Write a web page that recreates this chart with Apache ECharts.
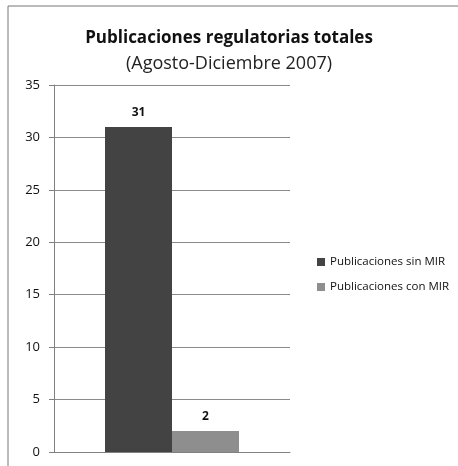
<!DOCTYPE html>
<html lang="es">
	<head>
		<meta charset="utf-8" />
		<title>Publicaciones regulatorias totales</title>
		<script src="https://cdn.jsdelivr.net/npm/echarts@6/dist/echarts.min.js"></script>
		<style>
			html, body { margin: 0; padding: 0; background: #fff; }
			#chart { width: 458px; height: 466px; }
		</style>
	</head>
	<body>
		<div id="chart"></div>
		<script type="text/javascript">
			// datos
			const categories = [''];
			const seriesNames = ['Publicaciones sin MIR', 'Publicaciones con MIR'];
			const sinMir = [31];
			const conMir = [2];
			const yTicks = { min: 0, max: 35, interval: 5 };

			const chart = echarts.init(document.getElementById('chart'));
			const font = '"Open Sans", sans-serif';

			const option = {
				animation: false,
				backgroundColor: '#fff',
				title: {
					text: 'Publicaciones regulatorias totales',
					subtext: '(Agosto-Diciembre 2007)',
					left: 'center',
					top: 25,
					itemGap: 8,
					textStyle: { fontFamily: font, fontSize: 17, fontWeight: 'bold', color: '#111' },
					subtextStyle: { fontFamily: font, fontSize: 18, color: '#222' }
				},
				//marco del gráfico (solo izquierda y arriba)
				graphic: [
					{ type: 'line', shape: { x1: 8, y1: 6, x2: 458, y2: 6 }, style: { stroke: '#777', lineWidth: 1 } },
					{ type: 'line', shape: { x1: 8, y1: 6, x2: 8, y2: 466 }, style: { stroke: '#777', lineWidth: 1 } }
				],
				legend: {
					orient: 'vertical',
					left: 312,
					top: 251,
					itemWidth: 8,
					itemHeight: 8,
					itemGap: 13,
					icon: 'rect',
					textStyle: { fontFamily: font, fontSize: 11.5, color: '#111' }
				},
				grid: { left: 54, right: 168, top: 85, bottom: 14 },
				xAxis: {
					type: 'category',
					data: categories,
					axisLine: { lineStyle: { color: '#808080' } },
					axisTick: { show: false },
					axisLabel: { show: false }
				},
				yAxis: {
					type: 'value',
					min: yTicks.min,
					max: yTicks.max,
					interval: yTicks.interval,
					axisLine: { show: true, lineStyle: { color: '#808080' } },
					axisTick: { show: true, length: 5, lineStyle: { color: '#808080' } },
					axisLabel: { fontFamily: font, fontSize: 13, color: '#111', margin: 14 },
					splitLine: { lineStyle: { color: '#8a8a8a' } }
				},
				series: [
					{
						name: seriesNames[0],
						type: 'bar',
						data: sinMir,
						barWidth: 67,
						barGap: '0%',
						itemStyle: { color: '#434343' },
						label: { show: true, position: 'top', distance: 8, fontFamily: font, fontSize: 12, fontWeight: 'bold', color: '#111' }
					},
					{
						name: seriesNames[1],
						type: 'bar',
						data: conMir,
						barWidth: 67,
						barGap: '0%',
						itemStyle: { color: '#8e8e8e' },
						label: { show: true, position: 'top', distance: 8, fontFamily: font, fontSize: 12, fontWeight: 'bold', color: '#111' }
					}
				]
			};
			chart.setOption(option);
		</script>
	</body>
</html>
